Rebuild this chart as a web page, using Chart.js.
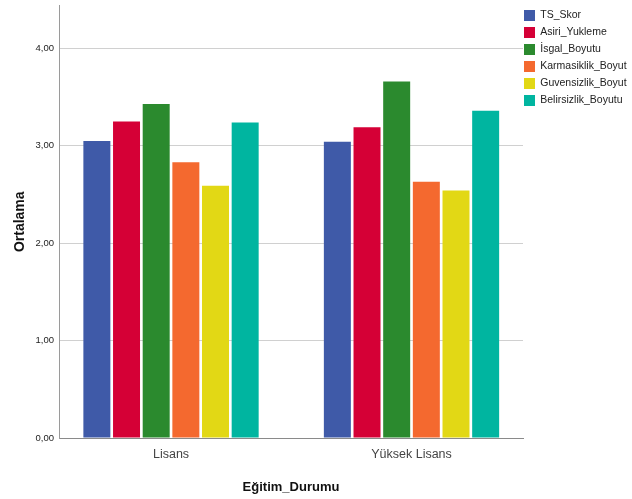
<!DOCTYPE html>
<html>
<head>
<meta charset="utf-8">
<script src="https://cdn.jsdelivr.net/npm/chart.js@4/dist/chart.umd.min.js"></script>
<style>
  html, body { margin: 0; padding: 0; background: #fff; }
  #wrap { width: 632px; height: 499px; }
</style>
</head>
<body>
<div id="wrap"><canvas id="c" width="632" height="499"></canvas></div>
<script>
const categories = ['Lisans', 'Yüksek Lisans'];
const seriesNames = ['TS_Skor', 'Asiri_Yukleme', 'İsgal_Boyutu', 'Karmasiklik_Boyutu', 'Guvensizlik_Boyutu', 'Belirsizlik_Boyutu'];
const tsSkor = [3.05, 3.04];
const asiriYukleme = [3.25, 3.19];
const isgalBoyutu = [3.43, 3.66];
const karmasiklikBoyutu = [2.83, 2.63];
const guvensizlikBoyutu = [2.59, 2.54];
const belirsizlikBoyutu = [3.24, 3.36];
const seriesColors = ['#3f5aa8', '#d50036', '#2b8a2e', '#f4692f', '#e2d815', '#00b5a0'];
const yTickValues = [0, 1, 2, 3, 4];

const allSeries = [tsSkor, asiriYukleme, isgalBoyutu, karmasiklikBoyutu, guvensizlikBoyutu, belirsizlikBoyutu];

const legendShift = {
  id: 'legendShift',
  afterLayout(chart) {
    const lg = chart.legend;
    if (lg) { lg.left -= 5; lg.right -= 5; lg.top += 4; lg.bottom += 4; }
  }
};

new Chart(document.getElementById('c'), {
  type: 'bar',
  data: {
    labels: categories,
    datasets: seriesNames.map((n, i) => ({
      label: n,
      data: allSeries[i],
      backgroundColor: seriesColors[i],
      borderWidth: 0,
      categoryPercentage: 0.74,
      barPercentage: 0.91
    }))
  },
  plugins: [legendShift],
  options: {
    responsive: false,
    animation: false,
    devicePixelRatio: 1,
    layout: { padding: 0 },
    plugins: {
      tooltip: { enabled: false },
      legend: {
        position: 'right',
        align: 'start',
        maxWidth: 109,
        labels: {
          boxWidth: 11,
          boxHeight: 11,
          padding: 6,
          color: '#222',
          font: { family: 'Liberation Sans, Arial', size: 10.5 }
        }
      }
    },
    scales: {
      x: {
        grid: { display: false, drawTicks: false },
        border: { display: true, color: '#8a8a8a', width: 1 },
        ticks: {
          color: '#444',
          padding: 9,
          font: { family: 'Liberation Sans, Arial', size: 12.5 }
        },
        title: {
          display: true,
          text: 'Eğitim_Durumu',
          color: '#111',
          font: { family: 'Liberation Sans, Arial', size: 13, weight: 'bold' },
          padding: { top: 0, bottom: 4 }
        },
        afterBuildTicks(scale) {
          scale._valueRange = 1.9294;
          scale._startValue = -0.4658;
        },
        afterFit(scale) { scale.height = 61; }
      },
      y: {
        min: 0,
        max: 4.44,
        grid: { color: '#d0d0d0', drawTicks: false, lineWidth: 1 },
        border: { display: true, color: '#9a9a9a', width: 1 },
        ticks: {
          includeBounds: false,
          stepSize: 1,
          padding: 5,
          color: '#222',
          font: { family: 'Liberation Sans, Arial', size: 9.5 },
          callback: (v) => yTickValues.includes(v) ? v.toFixed(2).replace('.', ',') : ''
        },
        title: {
          display: true,
          text: 'Ortalama',
          color: '#111',
          font: { family: 'Liberation Sans, Arial', size: 14, weight: 'bold' },
          padding: { top: 11.6, bottom: 0 }
        },
        afterFit(scale) {
          scale.width = 59;
          scale.paddingTop = 5.5;
          scale.paddingBottom = 5.5;
        }
      }
    }
  }
});
</script>
</body>
</html>
